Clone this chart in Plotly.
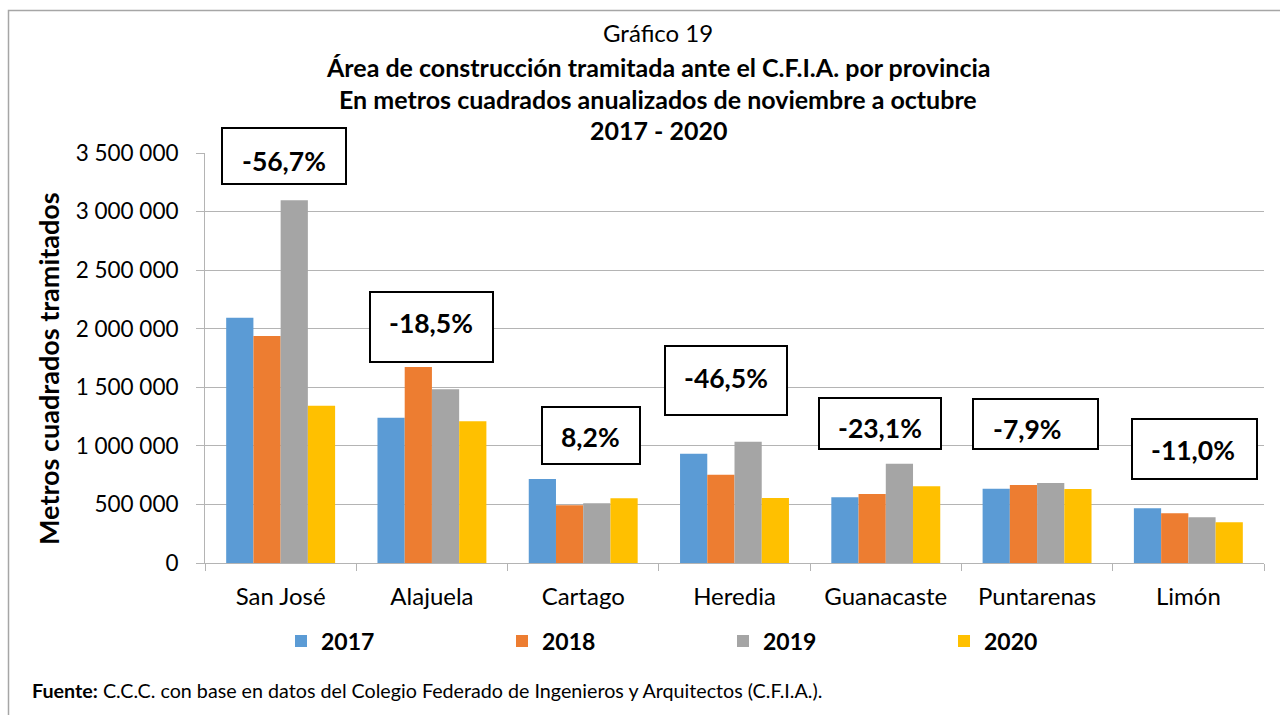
import plotly.graph_objects as go

provincias = ["San José", "Alajuela", "Cartago", "Heredia", "Guanacaste", "Puntarenas", "Limón"]
v2017 = [2094000, 1240000, 717000, 933000, 561000, 634000, 467000]
v2018 = [1938000, 1673000, 492000, 754000, 589000, 666000, 424000]
v2019 = [3096000, 1483000, 510000, 1035000, 848000, 683000, 390000]
v2020 = [1343000, 1210000, 552000, 555000, 655000, 632000, 347000]
variaciones = ["-56,7%", "-18,5%", "8,2%", "-46,5%", "-23,1%", "-7,9%", "-11,0%"]
y_ticks = [0, 500000, 1000000, 1500000, 2000000, 2500000, 3000000, 3500000]
y_tick_labels = ["0", "500 000", "1 000 000", "1 500 000", "2 000 000", "2 500 000", "3 000 000", "3 500 000"]

series = [("2017", v2017, "#5B9BD5"), ("2018", v2018, "#ED7D31"),
          ("2019", v2019, "#A5A5A5"), ("2020", v2020, "#FFC000")]

W, H = 1280, 715
L, R, T, B = 205, 16, 153, 152
PW, PH = W - L - R, H - T - B

def px(x):
    return (x - L) / PW

def py(y):
    return (H - B - y) / PH

FONT = "Lato"
GRID = "#B4B4B4"

fig = go.Figure()
for name, vals, col in series:
    fig.add_trace(go.Bar(x=provincias, y=vals, name=name, marker_color=col,
                         marker_line_width=0))

# label boxes (pixel boxes: x0, x1, y0, y1, text x, text y)
boxes = [
    (222, 346, 128, 184, 284, 161),
    (370, 493, 292, 362, 431, 323),
    (542, 640, 407, 464, 590, 437),
    (665, 787, 346, 415, 726, 378),
    (819, 941, 398, 449, 880, 428),
    (973, 1098, 399, 449, 1027, 429),
    (1132, 1257, 419, 479, 1193, 450),
]
shapes = []
annotations = []
for (x0, x1, y0, y1, tx, ty), txt in zip(boxes, variaciones):
    shapes.append(dict(type="rect", xref="paper", yref="paper",
                       x0=px(x0), x1=px(x1), y0=py(y1), y1=py(y0),
                       line=dict(color="black", width=2), fillcolor="white", layer="above"))
    annotations.append(dict(xref="paper", yref="paper", x=px(tx), y=py(ty),
                            text="<b>" + txt + "</b>", showarrow=False,
                            font=dict(family=FONT, size=26.5, color="black"),
                            xanchor="center", yanchor="middle"))

# outer border
shapes.append(dict(type="rect", xref="paper", yref="paper",
                   x0=px(8.5), x1=px(1300), y0=py(740), y1=py(10.5),
                   line=dict(color="#A6A6A6", width=1.5), fillcolor="rgba(0,0,0,0)", layer="below"))

titles = [("Gráfico 19", 33, False, 24), ("Área de construcción tramitada ante el C.F.I.A. por provincia", 67, True, 25),
          ("En metros cuadrados anualizados de noviembre a octubre", 99, True, 25), ("2017 - 2020", 130, True, 25)]
for txt, yy, bold, sz in titles:
    annotations.append(dict(xref="paper", yref="paper", x=px(658), y=py(yy),
                            text=("<b>" + txt + "</b>") if bold else txt, showarrow=False,
                            font=dict(family=FONT, size=sz, color="black"),
                            xanchor="center", yanchor="middle"))

annotations.append(dict(xref="paper", yref="paper", x=px(48), y=py(369),
                        text="<b>Metros cuadrados tramitados</b>", textangle=-90, showarrow=False,
                        font=dict(family=FONT, size=27, color="black"),
                        xanchor="center", yanchor="middle"))

annotations.append(dict(xref="paper", yref="paper", x=px(30), y=py(690),
                        text="<b>Fuente:</b> C.C.C. con base en datos del Colegio Federado de Ingenieros y Arquitectos (C.F.I.A.).",
                        showarrow=False, font=dict(family=FONT, size=19.7, color="black"),
                        xanchor="left", yanchor="middle"))

fig.update_layout(
    width=W, height=H,
    margin=dict(l=L, r=R, t=T, b=B, autoexpand=False),
    paper_bgcolor="white", plot_bgcolor="white",
    barmode="group", bargap=0.28, bargroupgap=0,
    font=dict(family=FONT, size=20, color="black"),
    shapes=shapes, annotations=annotations,
    showlegend=True,
    legend=dict(orientation="h", x=px(281), y=py(641), xanchor="left", yanchor="middle",
                font=dict(family=FONT, size=23, color="black", weight="bold"),
                entrywidth=176, entrywidthmode="pixels", itemwidth=30,
                traceorder="normal", bgcolor="rgba(0,0,0,0)"),
)
fig.update_xaxes(showline=True, linecolor=GRID, linewidth=1, ticks="outside",
                 tickson="boundaries", ticklen=7, tickcolor=GRID, ticklabelstandoff=12,
                 tickfont=dict(family=FONT, size=24, color="black"), showgrid=False)
fig.update_yaxes(range=[0, 3500000], tickvals=y_ticks, ticktext=y_tick_labels,
                 showgrid=True, gridcolor=GRID, gridwidth=1,
                 showline=True, linecolor=GRID, ticks="outside", ticklen=8, tickcolor=GRID,
                 ticklabelstandoff=13,
                 tickfont=dict(family=FONT, size=22.5, color="black"), zeroline=False)

fig.write_html("out.html", config={"displayModeBar": False},
               post_script="document.body.style.margin='0px';")
